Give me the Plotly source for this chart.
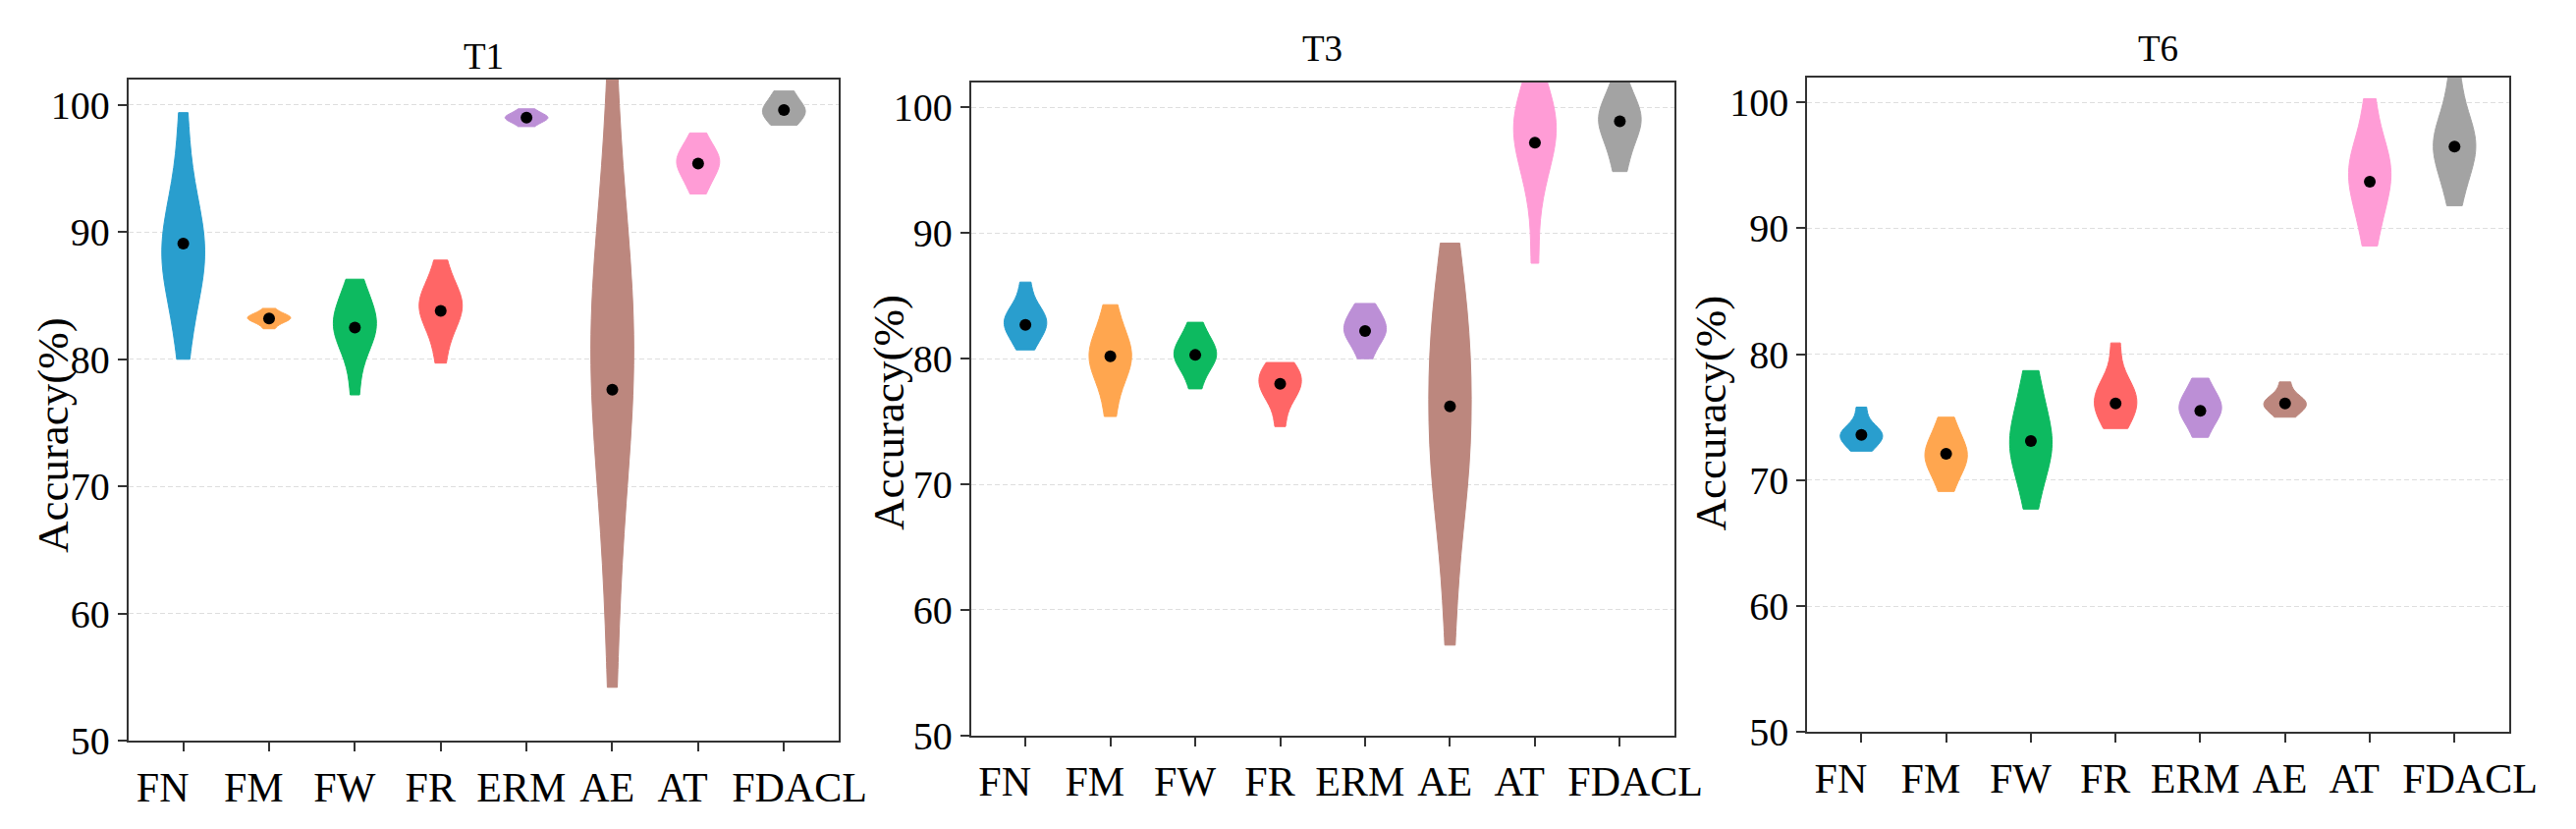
import numpy as np
import plotly.graph_objects as go
from plotly.subplots import make_subplots

# Methods on the x axis
methods = ["FN", "FM", "FW", "FR", "ERM", "AE", "AT", "FDACL"]
colors = ["#299ece", "#ffa64f", "#0dba60", "#ff6666", "#bc8fd6", "#bc877e", "#ff9cd6", "#a3a3a3"]
tasks = ["T1", "T3", "T6"]

# Per-run accuracies (%), one list per method
t1_runs = [
    [80.0, 83.5, 85.8, 87.0, 87.8, 88.5, 89.3, 90.5, 92.0, 94.5, 99.4],   # FN
    [82.4, 82.9, 83.1, 83.2, 83.3, 83.4, 83.5, 84.0],                     # FM
    [77.2, 80.0, 81.3, 82.0, 82.5, 82.9, 83.3, 84.0, 85.0, 86.3],         # FW
    [79.7, 82.0, 83.0, 83.7, 84.2, 84.6, 85.0, 85.8, 87.8],               # FR
    [98.3, 98.7, 98.9, 99.0, 99.1, 99.3, 99.7],                           # ERM
    [54.2, 63.5, 69.5, 73.0, 76.0, 78.0, 80.0, 82.0, 84.0, 86.5, 89.0, 93.0, 102.5],  # AE
    [93.0, 94.0, 94.6, 95.2, 95.5, 95.8, 96.2, 96.8, 97.8],               # AT
    [98.4, 99.2, 99.6, 100.0, 101.1],                                     # FDACL
]
t3_runs = [
    [80.7, 81.8, 82.4, 82.8, 83.1, 83.5, 84.2, 86.1],
    [75.4, 78.2, 79.3, 80.0, 80.4, 81.0, 82.0, 84.3],
    [77.6, 79.2, 79.8, 80.2, 80.5, 81.0, 81.6, 82.9],
    [74.6, 76.6, 77.3, 77.8, 78.2, 78.7, 79.2, 79.7],
    [80.0, 81.2, 81.8, 82.2, 82.5, 83.0, 83.6, 84.4],
    [57.2, 64.0, 68.5, 70.5, 72.0, 73.5, 75.5, 78.0, 80.0, 81.5, 83.0, 85.5, 89.2],
    [87.6, 93.0, 95.3, 96.8, 97.6, 98.2, 98.8, 99.5, 100.5, 102.3],
    [94.9, 96.8, 98.0, 98.7, 99.2, 99.7, 100.4, 102.2],
]
t6_runs = [
    [72.3, 73.0, 73.4, 73.6, 73.8, 74.2, 75.8],
    [69.1, 70.6, 71.3, 71.8, 72.2, 72.8, 73.6, 75.0],
    [67.7, 70.2, 71.6, 72.4, 73.0, 73.8, 75.0, 76.5, 78.7],
    [74.1, 75.0, 75.7, 76.2, 76.6, 77.2, 78.0, 80.9],
    [73.4, 74.6, 75.2, 75.6, 75.9, 76.4, 77.0, 78.1],
    [75.0, 75.6, 75.9, 76.1, 76.3, 76.6, 77.8],
    [88.6, 91.0, 92.5, 93.5, 94.3, 95.0, 95.8, 97.0, 100.3],
    [91.8, 94.0, 95.3, 96.1, 96.6, 97.2, 98.0, 99.5, 102.4],
]

# Black dots (mean accuracy)
t1_mean = [89.1, 83.2, 82.5, 83.8, 99.0, 77.6, 95.4, 99.6]
t3_mean = [82.7, 80.2, 80.3, 78.0, 82.2, 76.2, 97.2, 98.9]
t6_mean = [73.6, 72.1, 73.1, 76.1, 75.5, 76.1, 93.7, 96.5]

all_runs = [t1_runs, t3_runs, t6_runs]
all_means = [t1_mean, t3_mean, t6_mean]

FONT = "Times New Roman, Liberation Serif, serif"

# labels sit a little off their ticks in the original (AT / FDACL pushed apart)
NB = "\u00a0"
pad_after = [4, 3, 2, 2, 1, 1, 3, 0]
pad_before = [0, 0, 0, 0, 0, 0, 0, 3]
tick_text = [NB * b + m + NB * a for m, a, b in zip(methods, pad_after, pad_before)]

fig = make_subplots(rows=1, cols=3)

for col, (runs, means) in enumerate(zip(all_runs, all_means), start=1):
    for m, vals, c in zip(methods, runs, colors):
        vals = np.array(vals)
        # Scott's rule, like matplotlib's violinplot
        bw = vals.std(ddof=1) * len(vals) ** (-0.2)
        fig.add_trace(go.Violin(
            x=[m] * len(vals), y=vals,
            width=0.5, scalemode="width", spanmode="hard", bandwidth=bw,
            fillcolor=c, line=dict(color=c, width=1), opacity=1,
            points=False, box_visible=False, meanline_visible=False,
            showlegend=False, hoverinfo="skip",
        ), row=1, col=col)
    fig.add_trace(go.Scatter(
        x=methods, y=means, mode="markers",
        marker=dict(color="black", size=12),
        showlegend=False,
    ), row=1, col=col)

# panel placement (paper coords)
x_domains = [[0.0473, 0.3262], [0.3781, 0.6541], [0.7063, 0.9817]]
y_domains = [[0.0912, 0.9111], [0.0976, 0.9076], [0.1021, 0.9139]]

for i in range(3):
    fig.update_xaxes(
        domain=x_domains[i], type="category",
        categoryorder="array", categoryarray=methods,
        tickvals=methods, ticktext=tick_text,
        range=[-0.64, 7.64], tickangle=0,
        showline=True, mirror=True, linecolor="#333333", linewidth=2,
        ticks="outside", ticklen=9, tickwidth=1.5, tickcolor="#333333",
        tickfont=dict(family=FONT, size=42, color="black"),
        showgrid=False, zeroline=False,
        row=1, col=i + 1,
    )
    fig.update_yaxes(
        domain=y_domains[i], range=[50, 102], dtick=10, tick0=50,
        showline=True, mirror=True, linecolor="#333333", linewidth=2,
        ticks="outside", ticklen=9, tickwidth=1.5, tickcolor="#333333",
        tickfont=dict(family=FONT, size=40, color="black"),
        showgrid=True, gridcolor="#dedede", gridwidth=1, griddash="5px,3px",
        zeroline=False,
        row=1, col=i + 1,
    )

annotations = []
title_y = [0.9396, 0.949, 0.949]
for i, t in enumerate(tasks):
    annotations.append(dict(
        text=t, xref="paper", yref="paper",
        x=sum(x_domains[i]) / 2, y=title_y[i],
        xanchor="center", yanchor="middle", showarrow=False,
        font=dict(family=FONT, size=37, color="black"),
    ))

ylab_x = [0.0180, 0.3457, 0.6683]
ylab_y = [0.4697, 0.4980, 0.4970]
for i in range(3):
    annotations.append(dict(
        text="Accuracy(%)", xref="paper", yref="paper",
        x=ylab_x[i], y=ylab_y[i], textangle=-90,
        xanchor="center", yanchor="middle", showarrow=False,
        font=dict(family=FONT, size=45, color="black"),
    ))

fig.update_layout(
    width=2623, height=844,
    margin=dict(l=0, r=0, t=0, b=0),
    paper_bgcolor="white", plot_bgcolor="white",
    violinmode="overlay",
    annotations=annotations,
    font=dict(family=FONT),
)

fig.write_html("out.html")
